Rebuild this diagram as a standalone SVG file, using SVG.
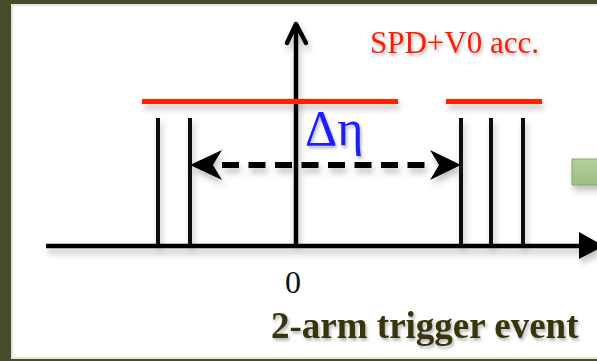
<svg xmlns="http://www.w3.org/2000/svg" width="597" height="361" viewBox="0 0 597 361">
  <defs>
    <filter id="sh" filterUnits="userSpaceOnUse" x="0" y="0" width="597" height="361">
      <feDropShadow dx="2" dy="5" stdDeviation="3" flood-color="#5a4a40" flood-opacity="0.35"/>
    </filter>
    <filter id="tsh" filterUnits="userSpaceOnUse" x="0" y="0" width="597" height="361">
      <feDropShadow dx="1.5" dy="2.5" stdDeviation="1.5" flood-color="#000" flood-opacity="0.3"/>
    </filter>
    <linearGradient id="gbox" x1="0" y1="0" x2="0" y2="1">
      <stop offset="0" stop-color="#b4cf9c"/>
      <stop offset="1" stop-color="#9cbd84"/>
    </linearGradient>
  </defs>
  <style>
    .ax { stroke: #000; stroke-width: 4.5; fill: none; }
    .bar { stroke: #111; stroke-width: 4; fill: none; }
    .red { stroke: #ff2200; stroke-width: 5; fill: none; }
    .serif { font-family: "Liberation Serif", "Times New Roman", serif; }
  </style>

  <!-- frame -->
  <rect x="0" y="0" width="597" height="361" fill="#474b2b"/>
  <rect x="12" y="5" width="590" height="353" fill="#ffffff" stroke="#dfe9d2" stroke-width="2"/>

  <!-- green box at right edge -->
  <g id="greenbox" filter="url(#sh)">
    <rect x="572" y="159" width="30" height="26" fill="url(#gbox)" stroke="#8aa574" stroke-width="1"/>
  </g>

  <g id="connectors">
    <!-- tracks -->
    <g filter="url(#sh)">
      <line class="bar" x1="158" y1="118" x2="158" y2="246"/>
      <line class="bar" x1="190" y1="118" x2="190" y2="246"/>
      <line class="bar" x1="461" y1="118" x2="461" y2="246"/>
      <line class="bar" x1="491" y1="118" x2="491" y2="246"/>
      <line class="bar" x1="523" y1="118" x2="523" y2="246"/>
    </g>
    <!-- axes -->
    <g filter="url(#sh)">
      <line class="ax" x1="46" y1="246" x2="582" y2="246"/>
      <polygon points="579,232 604,246 579,259" fill="#000"/>
      <line class="ax" x1="296" y1="24" x2="296" y2="248"/>
      <polyline class="ax" points="287,43 296,24 306,43" stroke-linecap="round" stroke-linejoin="round"/>
    </g>
    <!-- red acceptance bars -->
    <g filter="url(#sh)">
      <line class="red" x1="142" y1="101.5" x2="398" y2="101.5"/>
      <line class="red" x1="446" y1="101.5" x2="542" y2="101.5"/>
    </g>
    <!-- delta eta dashed arrow -->
    <g filter="url(#sh)">
      <line x1="222" y1="165" x2="430" y2="165" stroke="#000" stroke-width="6" stroke-dasharray="17 9.5"/>
      <polygon points="190,165 222,150 213,165 222,180" fill="#000"/>
      <polygon points="461,165 430,150 439,165 430,180" fill="#000"/>
    </g>
  </g>

  <g id="labels">
    <text class="serif" x="370" y="53" font-size="31" fill="#ff1a00" filter="url(#tsh)">SPD+V0 acc.</text>
    <text class="serif" x="305" y="145" font-size="50" fill="#1a1aff" filter="url(#tsh)">Δη</text>
    <text class="serif" x="285" y="293" font-size="32" fill="#111">0</text>
    <text class="serif" x="271" y="338" font-size="37" font-weight="bold" fill="#38340c" filter="url(#tsh)">2-arm trigger event</text>
  </g>
</svg>
